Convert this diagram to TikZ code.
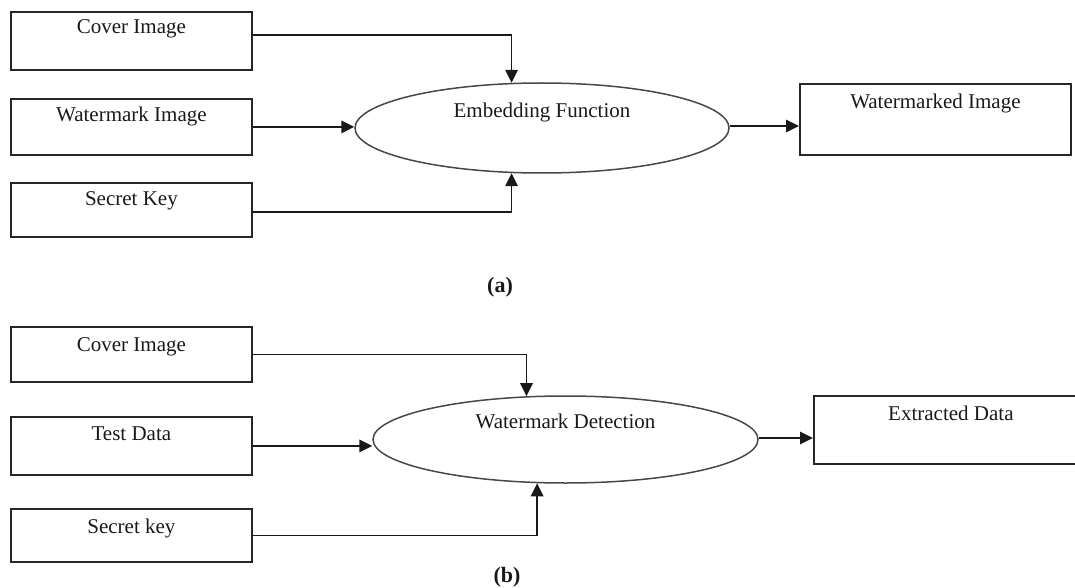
\documentclass[tikz,border=0pt]{standalone}
\usepackage{fontspec}
\setmainfont{Liberation Serif}
\usetikzlibrary{arrows.meta,shapes.geometric}
\begin{document}
\begin{tikzpicture}[x=1pt,y=-1pt,
  every node/.style={font=\fontsize{21}{25}\selectfont, text=black!90},
  inbox/.style n args={3}{draw=black!85, line width=1.8pt, rectangle,
    minimum width=#1, inner xsep=0pt, inner ysep=0pt,
    text height=#2, text depth=#3, anchor=north west},
  proc/.style n args={4}{draw=black!72, line width=1.5pt, ellipse,
    minimum width=#1, minimum height=#2, inner sep=0pt,
    text height=#3, text depth=#4},
  arr/.style={-{Triangle[length=13pt,width=12.5pt]}, line width=1.7pt, draw=black!90},
  sublabel/.style={font=\bfseries\fontsize{22}{26}\selectfont}
]
\useasboundingbox (0,0) rectangle (1075,588);
\clip (0,0) rectangle (1075,588);

% ---------- (a) ----------
\node[inbox={241pt}{22pt}{36pt}] (ci_a) at (10,11) {Cover Image};
\node[inbox={241pt}{23pt}{33pt}] (wi_a) at (10,98) {Watermark Image};
\node[inbox={241pt}{23pt}{31pt}] (sk_a) at (10,182) {Secret Key};
\node[proc={374pt}{90pt}{10pt}{30pt}] (ea) at (542,128) {Embedding Function};
\node[inbox={271pt}{25pt}{46pt}] (wmk) at (799,83) {Watermarked Image};
\node[sublabel] (la) at (500,287) {(a)};

\draw[arr] ([yshift=6pt]ci_a.east) -| (ea.124);
\draw[arr] (wi_a.east) -- (wi_a.east -| ea.west);
\draw[arr] ([yshift=-2pt]sk_a.east) -| (ea.236);
\draw[arr] ([yshift=2pt]ea.east) -- ([yshift=2pt]ea.east -| wmk.west);

% ---------- (b) ----------
\node[inbox={241pt}{25pt}{30pt}] (ci_b) at (10,326) {Cover Image};
\node[inbox={241pt}{24pt}{34pt}] (td_b) at (10,416) {Test Data};
\node[inbox={241pt}{25pt}{28pt}] (sk_b) at (10,508) {Secret key};
\node[proc={385pt}{87pt}{10pt}{33pt}] (eb) at (565.5,439.5) {Watermark Detection};
\node[inbox={274pt}{25pt}{43pt}] (ext) at (813,395) {Extracted Data};
\node[sublabel] (lb) at (507,577) {(b)};

\draw[arr] (ci_b.east) -| (eb.132);
\draw[arr] (td_b.east) -- (td_b.east -| eb.west);
\draw[arr] (sk_b.east) -| (eb.237);
\draw[arr] ([yshift=1.5pt]eb.east) -- ([yshift=1.5pt]eb.east -| ext.west);
\end{tikzpicture}
\end{document}
